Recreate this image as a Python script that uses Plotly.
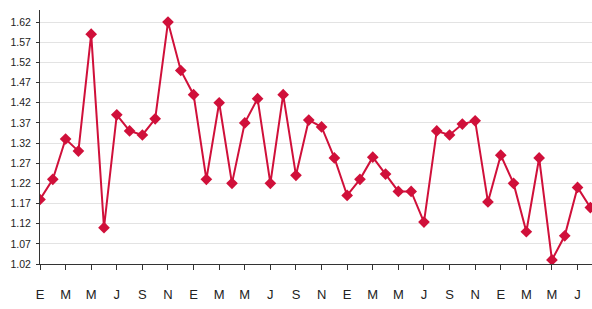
import plotly.graph_objects as go

month_index = list(range(44))
values = [1.18, 1.23, 1.33, 1.30, 1.59, 1.11, 1.39, 1.35, 1.34, 1.38, 1.62, 1.50,
          1.44, 1.23, 1.42, 1.22, 1.37, 1.43, 1.22, 1.44, 1.24, 1.377, 1.36, 1.283,
          1.19, 1.23, 1.285, 1.243, 1.20, 1.20, 1.124, 1.35, 1.34, 1.367, 1.375, 1.174,
          1.29, 1.22, 1.10, 1.283, 1.03, 1.09, 1.21, 1.16]
month_labels = ["E", "M", "M", "J", "S", "N"] * 4
label_positions = list(range(0, 44, 2))[:len(month_labels)]
y_ticks = [1.02, 1.07, 1.12, 1.17, 1.22, 1.27, 1.32, 1.37, 1.42, 1.47, 1.52, 1.57, 1.62]

fig = go.Figure()
fig.add_trace(go.Scatter(
    x=month_index, y=values, mode="lines+markers",
    line=dict(color="#d0103a", width=2),
    marker=dict(symbol="diamond", size=9, color="#d0103a"),
    cliponaxis=True,
))

fig.update_layout(
    width=592, height=309,
    margin=dict(l=40, r=0, t=10, b=45),
    paper_bgcolor="white", plot_bgcolor="white",
    showlegend=False,
    font=dict(family="Liberation Sans, Arial, sans-serif", color="#222"),
    xaxis=dict(
        range=[0, 43.13], tickmode="array",
        tickvals=label_positions, ticktext=month_labels,
        ticks="outside", ticklen=5, tickcolor="#333", tickwidth=1,
        showline=True, linecolor="#333", linewidth=1,
        showgrid=False, zeroline=False,
        tickfont=dict(size=13, color="#222"),
        ticklabelstandoff=13, automargin=False,
    ),
    yaxis=dict(
        range=[1.02, 1.65], tickmode="array",
        tickvals=y_ticks, ticktext=[f"{v:.2f}" for v in y_ticks],
        showline=True, linecolor="#333", linewidth=1,
        showgrid=True, gridcolor="#e3e3e3", gridwidth=1,
        zeroline=False, ticks="outside", ticklen=3, tickcolor="#333",
        tickfont=dict(size=10.5, color="#222"),
        ticklabelstandoff=3, automargin=False,
    ),
)

fig.write_html(
    "out.html",
    config={"displayModeBar": False},
    post_script="document.body.style.margin='0';document.body.style.overflow='hidden';",
)
